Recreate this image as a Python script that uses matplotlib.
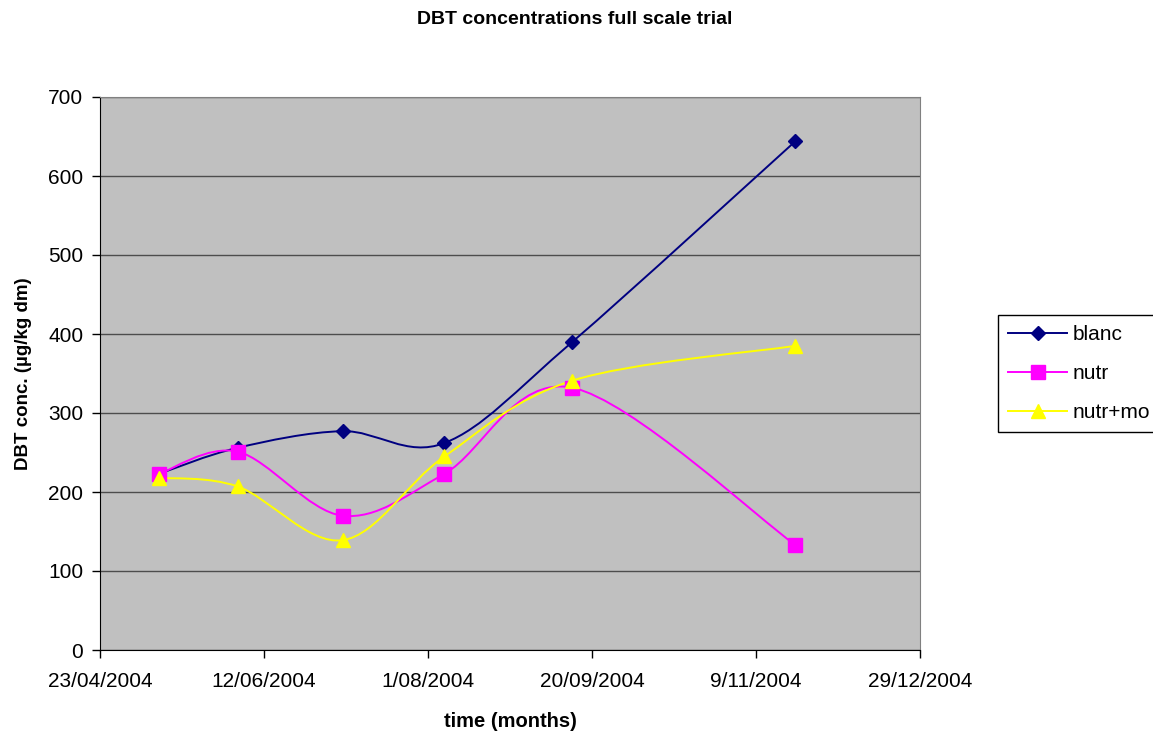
import datetime as dt
import matplotlib
matplotlib.use('Agg')
import matplotlib.pyplot as plt
import matplotlib.dates as mdates
from matplotlib.path import Path
from matplotlib.patches import PathPatch
from matplotlib.lines import Line2D

plt.rcParams['font.family'] = ['Liberation Sans', 'DejaVu Sans']

# sampling dates and DBT concentrations (ug/kg dm)
datums = [dt.date(2004, 5, 11), dt.date(2004, 6, 4), dt.date(2004, 7, 6),
          dt.date(2004, 8, 6), dt.date(2004, 9, 14), dt.date(2004, 11, 21)]
blanc = [223, 256, 277, 262, 390, 644]
nutr = [223, 251, 170, 223, 332, 133]
nutr_mo = [218, 207, 139, 245, 341, 385]

tick_datums = [dt.date(2004, 4, 23), dt.date(2004, 6, 12), dt.date(2004, 8, 1),
               dt.date(2004, 9, 20), dt.date(2004, 11, 9), dt.date(2004, 12, 29)]

reeksen = [
    ('blanc', blanc, '#000080', 'D', 7),
    ('nutr', nutr, '#FF00FF', 's', 10),
    ('nutr+mo', nutr_mo, '#FFFF00', '^', 10),
]


def gladde_lijn(xs, ys):
    # catmull-rom achtige bezier door de punten (zoals excel 'smoothed line')
    pts = list(zip(xs, ys))
    n = len(pts)
    verts = [pts[0]]
    codes = [Path.MOVETO]
    for i in range(n - 1):
        p0 = pts[i - 1] if i > 0 else pts[i]
        p1 = pts[i]
        p2 = pts[i + 1]
        p3 = pts[i + 2] if i + 2 < n else pts[i + 1]
        c1 = (p1[0] + (p2[0] - p0[0]) / 6, p1[1] + (p2[1] - p0[1]) / 6)
        c2 = (p2[0] - (p3[0] - p1[0]) / 6, p2[1] - (p3[1] - p1[1]) / 6)
        verts += [c1, c2, p2]
        codes += [Path.CURVE4] * 3
    return Path(verts, codes)


fig = plt.figure(figsize=(11.53, 7.40), dpi=100)
ax = fig.add_axes([100 / 1153, 1 - 650 / 740, 820 / 1153, 553 / 740])
ax.set_facecolor('#C0C0C0')

x = mdates.date2num(datums)
handles = []
for naam, waarden, kleur, marker, ms in reeksen:
    ax.add_patch(PathPatch(gladde_lijn(x, waarden), fill=False, edgecolor=kleur,
                           lw=1.4, zorder=3))
    ax.plot(x, waarden, linestyle='none', marker=marker, markersize=ms,
            color=kleur, markeredgecolor=kleur, zorder=4, clip_on=False)
    handles.append(Line2D([], [], color=kleur, lw=1.4, marker=marker,
                          markersize=ms, markeredgecolor=kleur, label=naam))

ax.set_xlim(mdates.date2num(tick_datums[0]), mdates.date2num(tick_datums[-1]))
ax.set_ylim(0, 700)
ax.set_yticks(range(0, 701, 100))
ax.set_xticks(mdates.date2num(tick_datums))
ax.set_xticklabels([f"{d.day}/{d.month:02d}/{d.year}" for d in tick_datums])
ax.yaxis.grid(True, color='#4d4d4d', lw=1)
ax.set_axisbelow(True)

for kant in ['top', 'right']:
    ax.spines[kant].set_color('#808080')
for kant in ['left', 'bottom']:
    ax.spines[kant].set_color('#000000')
ax.tick_params(direction='out', length=6, width=1, labelsize=15, pad=6)
ax.tick_params(axis='x', pad=10)

ax.set_xlabel('time (months)', fontsize=14.5, fontweight='bold', labelpad=15)
ax.set_ylabel('DBT conc. (µg/kg dm)', fontsize=13.5, fontweight='bold', labelpad=12)
fig.text(575 / 1153, 1 - 19 / 740, 'DBT concentrations full scale trial',
         ha='center', va='center', fontsize=14, fontweight='bold')

leg = fig.legend(handles=handles, loc='upper left',
                 bbox_to_anchor=(998 / 1153, 1 - 315 / 740), fontsize=15,
                 frameon=True, fancybox=False, framealpha=1, edgecolor='black',
                 borderaxespad=0, handlelength=2.8, handletextpad=0.3,
                 labelspacing=0.95, borderpad=0.5)
leg.get_frame().set_linewidth(1)

fig.savefig('out.png', dpi=100, facecolor='white')
